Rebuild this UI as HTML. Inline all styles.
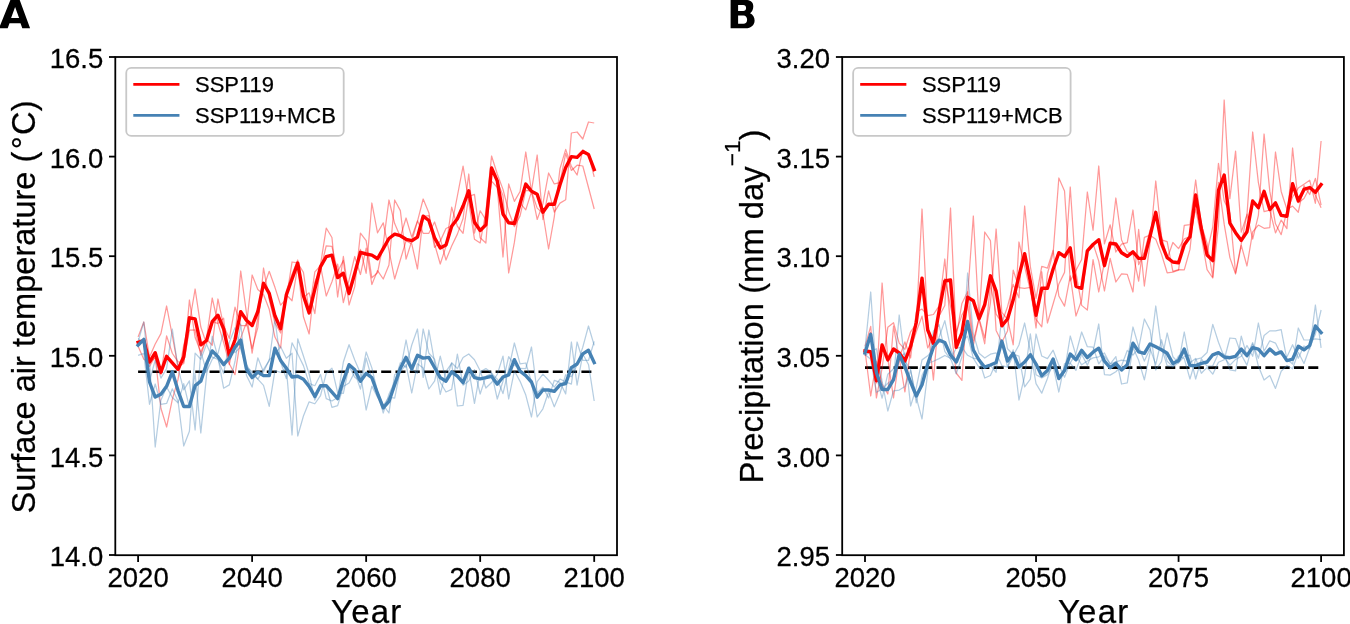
<!DOCTYPE html><html><head><meta charset="utf-8"><style>html,body{margin:0;padding:0;background:#fff;overflow:hidden}svg{display:block;will-change:transform}text{font-family:"Liberation Sans",sans-serif;fill:#000;stroke:#000;stroke-width:0.25px}</style></head><body>
<svg width="1350" height="624" viewBox="0 0 1350 624">
<rect width="1350" height="624" fill="#fff"/>
<clipPath id="clipA"><rect x="115.3" y="57.0" width="501.7" height="498.20000000000005"/></clipPath>
<g clip-path="url(#clipA)">
<line x1="138.10" y1="371.74" x2="594.20" y2="371.74" stroke="#000" stroke-width="2.7" stroke-dasharray="9.98 4.32"/>
<polyline points="138.10,336.89 143.81,322.00 149.51,357.11 155.21,344.05 160.91,333.67 166.61,306.00 172.31,335.73 178.01,366.62 183.71,363.57 189.41,300.00 195.12,337.51 200.82,351.99 206.52,339.08 212.22,345.24 217.92,299.00 223.62,325.95 229.32,338.31 235.02,307.18 240.72,325.68 246.43,325.74 252.13,275.00 257.83,289.46 263.53,294.55 269.23,309.26 274.93,337.07 280.63,347.90 286.33,290.95 292.04,274.28 297.74,260.00 303.44,297.57 309.14,292.83 314.84,313.71 320.54,264.67 326.24,228.03 331.94,237.47 337.64,297.00 343.35,256.47 349.05,295.14 354.75,276.42 360.45,249.27 366.15,273.27 371.85,203.00 377.55,232.78 383.25,222.89 388.95,250.49 394.66,279.00 400.36,259.78 406.06,240.72 411.76,243.93 417.46,269.00 423.16,216.29 428.86,215.52 434.56,247.39 440.26,241.12 445.97,228.47 451.67,225.69 457.37,196.00 463.07,166.20 468.77,201.88 474.47,239.22 480.17,242.95 485.87,211.79 491.57,156.00 497.28,173.97 502.98,189.38 508.68,211.48 514.38,226.66 520.08,215.88 525.78,190.48 531.48,190.77 537.18,155.00 542.89,219.51 548.59,190.90 554.29,212.07 559.99,203.13 565.69,199.66 571.39,133.00 577.09,132.00 582.79,139.00 588.49,122.00 594.20,123.00" fill="none" stroke="#ff0000" stroke-opacity="0.4" stroke-width="1.25" stroke-linejoin="round"/>
<polyline points="138.10,343.69 143.81,340.25 149.51,366.39 155.21,356.28 160.91,408.26 166.61,427.00 172.31,399.39 178.01,379.47 183.71,345.38 189.41,323.22 195.12,289.00 200.82,327.04 206.52,343.88 212.22,321.86 217.92,323.34 223.62,342.52 229.32,363.83 235.02,374.66 240.72,338.12 246.43,322.40 252.13,348.38 257.83,327.42 263.53,268.00 269.23,299.65 274.93,323.01 280.63,333.05 286.33,294.76 292.04,300.72 297.74,266.31 303.44,316.81 309.14,334.00 314.84,281.77 320.54,269.66 326.24,245.77 331.94,246.37 337.64,271.66 343.35,260.47 349.05,305.00 354.75,286.68 360.45,233.12 366.15,240.70 371.85,277.80 377.55,272.78 383.25,243.91 388.95,200.00 394.66,223.60 400.36,236.74 406.06,218.00 411.76,237.12 417.46,220.85 423.16,233.31 428.86,233.26 434.56,222.00 440.26,238.58 445.97,260.07 451.67,245.98 457.37,234.14 463.07,218.53 468.77,174.00 474.47,233.01 480.17,210.75 485.87,219.91 491.57,181.19 497.28,187.47 502.98,257.00 508.68,183.92 514.38,201.40 520.08,191.50 525.78,152.00 531.48,191.52 537.18,208.11 542.89,213.24 548.59,249.00 554.29,216.85 559.99,168.57 565.69,149.39 571.39,166.33 577.09,175.00 582.79,149.80 588.49,154.00 594.20,176.80" fill="none" stroke="#ff0000" stroke-opacity="0.4" stroke-width="1.25" stroke-linejoin="round"/>
<polyline points="138.10,346.32 143.81,359.25 149.51,362.79 155.21,357.77 160.91,374.67 166.61,335.90 172.31,353.27 178.01,361.81 183.71,362.05 189.41,330.18 195.12,329.89 200.82,355.37 206.52,338.54 212.22,298.00 217.92,323.26 223.62,318.24 229.32,364.65 235.02,337.26 240.72,271.00 246.43,312.77 252.13,353.12 257.83,317.62 263.53,287.35 269.23,271.29 274.93,287.32 280.63,305.15 286.33,299.00 292.04,262.00 297.74,262.99 303.44,272.42 309.14,311.87 314.84,271.82 320.54,265.77 326.24,296.00 331.94,281.76 337.64,264.14 343.35,302.66 349.05,280.06 354.75,256.49 360.45,274.51 366.15,248.03 371.85,284.50 377.55,270.54 383.25,279.00 388.95,265.01 394.66,200.00 400.36,210.58 406.06,259.18 411.76,241.05 417.46,221.45 423.16,199.00 428.86,212.71 434.56,244.01 440.26,264.00 445.97,246.45 451.67,207.23 457.37,226.26 463.07,233.27 468.77,196.52 474.47,194.36 480.17,237.80 485.87,243.00 491.57,166.81 497.28,181.26 502.98,195.62 508.68,273.00 514.38,242.44 520.08,203.12 525.78,209.82 531.48,191.61 537.18,219.49 542.89,203.86 548.59,173.00 554.29,183.98 559.99,182.70 565.69,153.45 571.39,170.47 577.09,165.20 582.79,166.00 588.49,187.50 594.20,209.00" fill="none" stroke="#ff0000" stroke-opacity="0.4" stroke-width="1.25" stroke-linejoin="round"/>
<polyline points="138.10,341.62 143.81,322.00 149.51,380.72 155.21,360.29 160.91,378.12 166.61,368.45 172.31,329.00 178.01,368.06 183.71,389.83 189.41,380.85 195.12,430.00 200.82,351.36 206.52,371.99 212.22,359.27 217.92,353.61 223.62,331.94 229.32,347.09 235.02,352.64 240.72,346.88 246.43,364.69 252.13,374.11 257.83,379.09 263.53,385.33 269.23,406.46 274.93,370.55 280.63,372.44 286.33,368.07 292.04,435.00 297.74,338.82 303.44,355.97 309.14,374.00 314.84,400.01 320.54,387.10 326.24,385.24 331.94,407.43 337.64,405.61 343.35,386.41 349.05,383.06 354.75,372.14 360.45,389.15 366.15,358.20 371.85,378.79 377.55,391.43 383.25,413.00 388.95,394.15 394.66,381.76 400.36,362.75 406.06,367.47 411.76,345.00 417.46,328.99 423.16,377.31 428.86,330.00 434.56,362.08 440.26,394.29 445.97,371.42 451.67,363.32 457.37,406.00 463.07,405.36 468.77,369.55 474.47,403.38 480.17,371.68 485.87,368.60 491.57,372.86 497.28,399.00 502.98,381.26 508.68,356.54 514.38,365.31 520.08,368.47 525.78,368.71 531.48,347.00 537.18,393.02 542.89,387.12 548.59,398.07 554.29,380.34 559.99,382.42 565.69,393.86 571.39,342.00 577.09,385.21 582.79,354.06 588.49,364.45 594.20,401.00" fill="none" stroke="#4682b4" stroke-opacity="0.4" stroke-width="1.25" stroke-linejoin="round"/>
<polyline points="138.10,338.59 143.81,342.74 149.51,361.00 155.21,447.00 160.91,400.13 166.61,386.99 172.31,397.56 178.01,402.83 183.71,383.67 189.41,407.41 195.12,373.73 200.82,433.00 206.52,375.40 212.22,336.25 217.92,357.09 223.62,388.23 229.32,384.87 235.02,361.50 240.72,324.00 246.43,375.26 252.13,387.02 257.83,357.84 263.53,372.05 269.23,359.79 274.93,354.75 280.63,346.72 286.33,358.23 292.04,353.22 297.74,436.00 303.44,416.01 309.14,401.84 314.84,403.76 320.54,395.52 326.24,373.26 331.94,368.14 337.64,392.69 343.35,393.37 349.05,366.33 354.75,377.20 360.45,381.42 366.15,352.00 371.85,367.91 377.55,391.89 383.25,405.19 388.95,413.00 394.66,374.56 400.36,371.71 406.06,364.73 411.76,393.00 417.46,363.63 423.16,367.99 428.86,389.00 434.56,381.24 440.26,356.23 445.97,380.18 451.67,362.70 457.37,368.49 463.07,357.51 468.77,354.00 474.47,359.75 480.17,370.72 485.87,388.07 491.57,382.55 497.28,374.42 502.98,356.18 508.68,399.00 514.38,370.79 520.08,381.33 525.78,395.09 531.48,417.00 537.18,381.58 542.89,374.06 548.59,380.24 554.29,387.12 559.99,379.04 565.69,381.88 571.39,384.08 577.09,342.00 582.79,360.49 588.49,360.45 594.20,341.37" fill="none" stroke="#4682b4" stroke-opacity="0.4" stroke-width="1.25" stroke-linejoin="round"/>
<polyline points="138.10,355.39 143.81,353.46 149.51,404.28 155.21,384.01 160.91,404.36 166.61,403.46 172.31,388.84 178.01,400.90 183.71,446.00 189.41,431.24 195.12,353.07 200.82,359.24 206.52,344.31 212.22,357.18 217.92,359.40 223.62,373.63 229.32,342.35 235.02,327.76 240.72,349.42 246.43,367.05 252.13,371.68 257.83,379.07 263.53,369.41 269.23,360.54 274.93,319.00 280.63,362.04 286.33,378.60 292.04,342.78 297.74,354.08 303.44,365.62 309.14,383.36 314.84,385.73 320.54,374.48 326.24,398.60 331.94,401.03 337.64,397.50 343.35,362.02 349.05,344.71 354.75,360.05 360.45,373.33 366.15,410.00 371.85,386.09 377.55,397.18 383.25,405.51 388.95,397.05 394.66,398.07 400.36,370.14 406.06,340.00 411.76,369.00 417.46,373.29 423.16,329.00 428.86,353.20 434.56,359.19 440.26,382.28 445.97,392.00 451.67,389.38 457.37,354.11 463.07,385.23 468.77,381.05 474.47,369.67 480.17,394.00 485.87,376.43 491.57,373.49 497.28,379.18 502.98,393.56 508.68,368.86 514.38,343.00 520.08,363.80 525.78,363.00 531.48,382.00 537.18,417.00 542.89,408.82 548.59,391.69 554.29,406.74 559.99,393.24 565.69,374.76 571.39,376.72 577.09,364.79 582.79,347.16 588.49,326.00 594.20,345.43" fill="none" stroke="#4682b4" stroke-opacity="0.4" stroke-width="1.25" stroke-linejoin="round"/>
<polyline points="138.10,342.30 143.81,340.50 149.51,362.10 155.21,352.70 160.91,372.20 166.61,356.30 172.31,362.80 178.01,369.30 183.71,357.00 189.41,317.80 195.12,318.80 200.82,344.80 206.52,340.50 212.22,321.70 217.92,315.20 223.62,328.90 229.32,355.60 235.02,339.70 240.72,311.60 246.43,320.30 252.13,325.50 257.83,311.50 263.53,283.30 269.23,293.40 274.93,315.80 280.63,328.70 286.33,294.90 292.04,279.00 297.74,263.10 303.44,295.60 309.14,312.90 314.84,289.10 320.54,266.70 326.24,256.60 331.94,255.20 337.64,277.60 343.35,273.20 349.05,293.40 354.75,273.20 360.45,252.30 366.15,254.00 371.85,255.10 377.55,258.70 383.25,248.60 388.95,238.50 394.66,234.20 400.36,235.70 406.06,239.30 411.76,240.70 417.46,237.10 423.16,216.20 428.86,220.50 434.56,237.80 440.26,247.90 445.97,245.00 451.67,226.30 457.37,218.80 463.07,206.00 468.77,190.80 474.47,222.20 480.17,230.50 485.87,224.90 491.57,168.00 497.28,180.90 502.98,214.00 508.68,222.80 514.38,223.50 520.08,203.50 525.78,184.10 531.48,191.30 537.18,194.20 542.89,212.20 548.59,204.30 554.29,204.30 559.99,184.80 565.69,167.50 571.39,156.60 577.09,157.40 582.79,151.60 588.49,154.50 594.20,169.60" fill="none" stroke="#ff0000" stroke-width="3.4" stroke-linejoin="round" stroke-linecap="square"/>
<polyline points="138.10,345.20 143.81,339.40 149.51,382.00 155.21,397.10 160.91,394.20 166.61,386.30 172.31,371.80 178.01,390.60 183.71,406.50 189.41,406.50 195.12,385.60 200.82,381.20 206.52,363.90 212.22,350.90 217.92,356.70 223.62,364.60 229.32,358.10 235.02,347.30 240.72,340.10 246.43,369.00 252.13,377.60 257.83,372.00 263.53,375.60 269.23,375.60 274.93,348.10 280.63,360.40 286.33,368.30 292.04,377.00 297.74,376.30 303.44,379.20 309.14,386.40 314.84,396.50 320.54,385.70 326.24,385.70 331.94,392.20 337.64,398.60 343.35,380.60 349.05,364.70 354.75,369.80 360.45,381.30 366.15,373.40 371.85,377.60 377.55,393.50 383.25,407.90 388.95,401.40 394.66,384.80 400.36,368.20 406.06,357.40 411.76,369.00 417.46,355.30 423.16,358.10 428.86,357.40 434.56,367.50 440.26,377.60 445.97,381.20 451.67,371.80 457.37,376.20 463.07,382.70 468.77,368.20 474.47,377.60 480.17,378.80 485.87,377.70 491.57,376.30 497.28,384.20 502.98,377.00 508.68,374.80 514.38,359.70 520.08,371.20 525.78,375.60 531.48,382.00 537.18,397.20 542.89,390.00 548.59,390.00 554.29,391.40 559.99,384.90 565.69,383.50 571.39,367.60 577.09,364.00 582.79,353.90 588.49,350.30 594.20,362.60" fill="none" stroke="#4682b4" stroke-width="3.4" stroke-linejoin="round" stroke-linecap="square"/>
</g>
<rect x="115.3" y="57.0" width="501.7" height="498.20000000000005" fill="none" stroke="#000" stroke-width="1.8"/>
<line x1="109.00" y1="555.00" x2="115.30" y2="555.00" stroke="#000" stroke-width="1.8"/>
<text transform="translate(103.30,566.10) scale(1,1.03)" font-size="27.5" text-anchor="end">14.0</text>
<line x1="109.00" y1="455.40" x2="115.30" y2="455.40" stroke="#000" stroke-width="1.8"/>
<text transform="translate(103.30,466.50) scale(1,1.03)" font-size="27.5" text-anchor="end">14.5</text>
<line x1="109.00" y1="355.80" x2="115.30" y2="355.80" stroke="#000" stroke-width="1.8"/>
<text transform="translate(103.30,366.90) scale(1,1.03)" font-size="27.5" text-anchor="end">15.0</text>
<line x1="109.00" y1="256.20" x2="115.30" y2="256.20" stroke="#000" stroke-width="1.8"/>
<text transform="translate(103.30,267.30) scale(1,1.03)" font-size="27.5" text-anchor="end">15.5</text>
<line x1="109.00" y1="156.60" x2="115.30" y2="156.60" stroke="#000" stroke-width="1.8"/>
<text transform="translate(103.30,167.70) scale(1,1.03)" font-size="27.5" text-anchor="end">16.0</text>
<line x1="109.00" y1="57.00" x2="115.30" y2="57.00" stroke="#000" stroke-width="1.8"/>
<text transform="translate(103.30,68.10) scale(1,1.03)" font-size="27.5" text-anchor="end">16.5</text>
<line x1="138.10" y1="555.20" x2="138.10" y2="561.90" stroke="#000" stroke-width="1.8"/>
<text transform="translate(138.10,587.3) scale(1,1.03)" font-size="27.5" text-anchor="middle">2020</text>
<line x1="252.13" y1="555.20" x2="252.13" y2="561.90" stroke="#000" stroke-width="1.8"/>
<text transform="translate(252.13,587.3) scale(1,1.03)" font-size="27.5" text-anchor="middle">2040</text>
<line x1="366.15" y1="555.20" x2="366.15" y2="561.90" stroke="#000" stroke-width="1.8"/>
<text transform="translate(366.15,587.3) scale(1,1.03)" font-size="27.5" text-anchor="middle">2060</text>
<line x1="480.17" y1="555.20" x2="480.17" y2="561.90" stroke="#000" stroke-width="1.8"/>
<text transform="translate(480.17,587.3) scale(1,1.03)" font-size="27.5" text-anchor="middle">2080</text>
<line x1="594.20" y1="555.20" x2="594.20" y2="561.90" stroke="#000" stroke-width="1.8"/>
<text transform="translate(594.20,587.3) scale(1,1.03)" font-size="27.5" text-anchor="middle">2100</text>
<text x="366.75" y="622.5" font-size="33" letter-spacing="1.2" text-anchor="middle">Year</text>
<text transform="translate(35,307) rotate(-90)" font-size="32.55" text-anchor="middle">Surface air temperature (<tspan dx="2.4">°</tspan><tspan dx="1.4">C</tspan>)</text>
<path fill="#000" fill-rule="evenodd" d="M11.6 -3 L18.6 -3 L30.1 28.3 L22.3 28.3 L20.5 23.3 L9.5 23.3 L7.7 28.3 L-1 28.3 Z M15.1 6.9 L19.1 17.9 L11.1 17.9 Z"/>
<rect x="126.25" y="67.9" width="217.45" height="68.0" rx="5" ry="5" fill="#fff" fill-opacity="0.8" stroke="#c8c8c8" stroke-width="1.8"/>
<line x1="133.30" y1="84.4" x2="179.45" y2="84.4" stroke="#ff0000" stroke-width="2.8"/>
<line x1="133.30" y1="115.4" x2="179.45" y2="115.4" stroke="#4682b4" stroke-width="2.8"/>
<text x="195.00" y="92.3" font-size="22">SSP119</text>
<text x="195.00" y="122.7" font-size="22">SSP119+MCB</text>
<clipPath id="clipB"><rect x="842.1999999999999" y="57.0" width="501.70000000000016" height="498.20000000000005"/></clipPath>
<g clip-path="url(#clipB)">
<line x1="865.00" y1="367.59" x2="1321.10" y2="367.59" stroke="#000" stroke-width="2.7" stroke-dasharray="9.98 4.32"/>
<polyline points="865.00,346.44 870.71,326.37 876.41,398.00 882.11,368.01 887.81,327.33 893.51,322.76 899.21,343.10 904.91,349.22 910.61,331.79 916.31,323.53 922.02,209.00 927.72,326.36 933.42,380.00 939.12,310.62 944.82,278.50 950.52,306.36 956.22,331.91 961.92,315.16 967.62,304.68 973.33,345.47 979.03,318.46 984.73,232.00 990.43,240.64 996.13,330.40 1001.83,342.31 1007.53,331.00 1013.23,270.18 1018.94,287.54 1024.64,288.39 1030.34,287.35 1036.04,328.00 1041.74,271.75 1047.44,323.00 1053.14,303.74 1058.84,284.10 1064.54,272.37 1070.25,187.00 1075.95,272.62 1081.65,305.36 1087.35,310.00 1093.05,259.60 1098.75,292.00 1104.45,262.18 1110.15,246.85 1115.85,198.00 1121.56,239.96 1127.26,251.94 1132.96,253.70 1138.66,281.10 1144.36,237.29 1150.06,235.17 1155.76,239.33 1161.46,254.05 1167.16,272.76 1172.87,272.07 1178.57,270.06 1184.27,225.33 1189.97,224.56 1195.67,180.00 1201.37,225.03 1207.07,252.01 1212.77,226.80 1218.47,163.39 1224.18,200.82 1229.88,213.08 1235.58,273.00 1241.28,243.61 1246.98,214.23 1252.68,239.13 1258.38,215.44 1264.08,134.00 1269.79,191.14 1275.49,223.82 1281.19,234.67 1286.89,210.91 1292.59,196.97 1298.29,188.06 1303.99,184.18 1309.69,180.25 1315.39,203.29 1321.10,141.00" fill="none" stroke="#ff0000" stroke-opacity="0.4" stroke-width="1.25" stroke-linejoin="round"/>
<polyline points="865.00,350.48 870.71,396.00 876.41,361.13 882.11,383.99 887.81,394.00 893.51,326.24 899.21,358.15 904.91,391.85 910.61,349.10 916.31,331.79 922.02,316.18 927.72,347.99 933.42,336.00 939.12,315.95 944.82,305.50 950.52,208.00 956.22,336.99 961.92,303.42 967.62,291.72 973.33,340.63 979.03,318.36 984.73,338.00 990.43,302.93 996.13,229.00 1001.83,312.41 1007.53,319.31 1013.23,344.76 1018.94,242.00 1024.64,266.71 1030.34,290.64 1036.04,319.28 1041.74,326.87 1047.44,273.73 1053.14,252.97 1058.84,178.00 1064.54,190.95 1070.25,280.90 1075.95,270.28 1081.65,259.45 1087.35,192.00 1093.05,230.23 1098.75,166.00 1104.45,243.92 1110.15,224.79 1115.85,252.00 1121.56,244.22 1127.26,242.57 1132.96,210.00 1138.66,264.62 1144.36,251.90 1150.06,230.15 1155.76,216.57 1161.46,239.96 1167.16,241.57 1172.87,271.44 1178.57,269.66 1184.27,269.86 1189.97,249.38 1195.67,195.91 1201.37,224.70 1207.07,243.38 1212.77,277.00 1218.47,182.29 1224.18,224.18 1229.88,257.60 1235.58,274.00 1241.28,245.42 1246.98,266.00 1252.68,231.87 1258.38,225.07 1264.08,228.28 1269.79,227.51 1275.49,152.00 1281.19,191.44 1286.89,209.31 1292.59,206.13 1298.29,212.22 1303.99,185.58 1309.69,194.50 1315.39,178.37 1321.10,205.05" fill="none" stroke="#ff0000" stroke-opacity="0.4" stroke-width="1.25" stroke-linejoin="round"/>
<polyline points="865.00,356.08 870.71,332.73 876.41,382.97 882.11,283.00 887.81,358.67 893.51,398.00 899.21,357.74 904.91,341.93 910.61,358.02 916.31,311.58 922.02,309.12 927.72,315.65 933.42,314.50 939.12,305.83 944.82,259.00 950.52,325.64 956.22,373.00 961.92,380.43 967.62,295.49 973.33,216.00 979.03,319.58 984.73,343.80 990.43,283.83 996.13,314.20 1001.83,322.68 1007.53,306.69 1013.23,284.46 1018.94,297.86 1024.64,206.00 1030.34,266.51 1036.04,298.32 1041.74,266.27 1047.44,268.17 1053.14,250.29 1058.84,296.00 1064.54,306.17 1070.25,275.80 1075.95,316.00 1081.65,300.10 1087.35,250.40 1093.05,243.67 1098.75,261.10 1104.45,291.00 1110.15,258.26 1115.85,282.00 1121.56,273.92 1127.26,274.39 1132.96,292.00 1138.66,229.48 1144.36,286.02 1150.06,242.98 1155.76,181.00 1161.46,235.89 1167.16,258.77 1172.87,242.49 1178.57,248.68 1184.27,238.90 1189.97,236.47 1195.67,209.09 1201.37,236.97 1207.07,269.61 1212.77,278.00 1218.47,225.52 1224.18,100.00 1229.88,198.61 1235.58,151.10 1241.28,232.17 1246.98,214.87 1252.68,132.00 1258.38,182.59 1264.08,211.62 1269.79,210.15 1275.49,232.88 1281.19,220.09 1286.89,228.68 1292.59,148.00 1298.29,202.72 1303.99,198.44 1309.69,187.75 1315.39,195.24 1321.10,207.75" fill="none" stroke="#ff0000" stroke-opacity="0.4" stroke-width="1.25" stroke-linejoin="round"/>
<polyline points="865.00,349.02 870.71,292.00 876.41,376.47 882.11,398.22 887.81,374.19 893.51,368.77 899.21,358.48 904.91,352.86 910.61,406.00 916.31,387.59 922.02,359.88 927.72,355.83 933.42,348.81 939.12,337.18 944.82,320.66 950.52,347.73 956.22,364.04 961.92,341.26 967.62,336.21 973.33,358.16 979.03,359.47 984.73,378.00 990.43,375.52 996.13,362.46 1001.83,342.72 1007.53,367.04 1013.23,349.82 1018.94,400.00 1024.64,376.16 1030.34,333.90 1036.04,374.71 1041.74,377.87 1047.44,374.65 1053.14,366.19 1058.84,392.00 1064.54,363.56 1070.25,363.13 1075.95,370.38 1081.65,354.35 1087.35,365.15 1093.05,351.58 1098.75,324.00 1104.45,374.54 1110.15,375.10 1115.85,371.74 1121.56,365.66 1127.26,350.43 1132.96,355.01 1138.66,348.39 1144.36,319.00 1150.06,330.11 1155.76,370.01 1161.46,361.67 1167.16,333.00 1172.87,356.71 1178.57,362.89 1184.27,356.33 1189.97,355.15 1195.67,379.00 1201.37,358.94 1207.07,366.18 1212.77,365.84 1218.47,353.59 1224.18,354.22 1229.88,369.88 1235.58,370.82 1241.28,336.20 1246.98,356.17 1252.68,342.58 1258.38,366.04 1264.08,380.00 1269.79,375.62 1275.49,388.41 1281.19,371.25 1286.89,365.55 1292.59,368.77 1298.29,352.33 1303.99,363.43 1309.69,347.78 1315.39,334.10 1321.10,310.00" fill="none" stroke="#4682b4" stroke-opacity="0.4" stroke-width="1.25" stroke-linejoin="round"/>
<polyline points="865.00,355.50 870.71,351.59 876.41,348.75 882.11,381.27 887.81,411.00 893.51,390.77 899.21,390.02 904.91,386.43 910.61,370.50 916.31,397.63 922.02,419.00 927.72,372.57 933.42,330.95 939.12,324.77 944.82,351.37 950.52,359.05 956.22,348.17 961.92,347.27 967.62,355.29 973.33,358.21 979.03,367.31 984.73,365.54 990.43,365.28 996.13,372.24 1001.83,315.00 1007.53,348.78 1013.23,354.44 1018.94,356.03 1024.64,386.84 1030.34,379.12 1036.04,334.00 1041.74,356.04 1047.44,358.67 1053.14,350.19 1058.84,365.14 1064.54,377.25 1070.25,362.87 1075.95,353.64 1081.65,332.00 1087.35,346.68 1093.05,347.15 1098.75,363.82 1104.45,356.12 1110.15,363.96 1115.85,361.83 1121.56,360.04 1127.26,361.05 1132.96,327.00 1138.66,346.69 1144.36,361.10 1150.06,348.64 1155.76,364.39 1161.46,339.76 1167.16,361.22 1172.87,366.61 1178.57,362.81 1184.27,332.00 1189.97,362.65 1195.67,358.42 1201.37,373.28 1207.07,367.31 1212.77,374.12 1218.47,362.27 1224.18,359.73 1229.88,338.00 1235.58,338.66 1241.28,354.80 1246.98,365.11 1252.68,343.95 1258.38,358.26 1264.08,335.48 1269.79,330.87 1275.49,330.80 1281.19,329.68 1286.89,359.28 1292.59,364.06 1298.29,328.00 1303.99,340.00 1309.69,339.77 1315.39,338.90 1321.10,339.61" fill="none" stroke="#4682b4" stroke-opacity="0.4" stroke-width="1.25" stroke-linejoin="round"/>
<polyline points="865.00,354.47 870.71,359.31 876.41,392.28 882.11,389.02 887.81,383.31 893.51,379.26 899.21,315.00 904.91,361.10 910.61,369.50 916.31,402.78 922.02,375.52 927.72,363.60 933.42,361.24 939.12,358.65 944.82,355.47 950.52,358.21 956.22,373.79 961.92,356.97 967.62,273.00 973.33,333.62 979.03,353.22 984.73,358.06 990.43,354.20 996.13,352.81 1001.83,365.58 1007.53,367.19 1013.23,355.64 1018.94,344.97 1024.64,323.00 1030.34,351.08 1036.04,383.59 1041.74,393.18 1047.44,378.48 1053.14,360.92 1058.84,378.36 1064.54,370.99 1070.25,336.00 1075.95,355.37 1081.65,364.85 1087.35,360.97 1093.05,357.87 1098.75,356.78 1104.45,352.95 1110.15,364.03 1115.85,356.62 1121.56,384.00 1127.26,382.93 1132.96,347.59 1138.66,360.33 1144.36,379.80 1150.06,352.95 1155.76,306.00 1161.46,347.66 1167.16,365.68 1172.87,366.88 1178.57,355.80 1184.27,358.67 1189.97,379.00 1195.67,359.38 1201.37,357.98 1207.07,352.51 1212.77,324.43 1218.47,342.24 1224.18,357.05 1229.88,365.22 1235.58,359.42 1241.28,356.30 1246.98,345.51 1252.68,356.27 1258.38,323.00 1264.08,351.32 1269.79,340.81 1275.49,343.09 1281.19,354.76 1286.89,356.97 1292.59,344.77 1298.29,358.27 1303.99,345.98 1309.69,348.94 1315.39,305.00 1321.10,347.89" fill="none" stroke="#4682b4" stroke-opacity="0.4" stroke-width="1.25" stroke-linejoin="round"/>
<polyline points="865.00,351.00 870.71,351.70 876.41,380.70 882.11,345.00 887.81,360.00 893.51,349.00 899.21,353.00 904.91,361.00 910.61,346.30 916.31,322.30 922.02,278.10 927.72,330.00 933.42,343.50 939.12,310.80 944.82,281.00 950.52,280.00 956.22,347.30 961.92,333.00 967.62,297.30 973.33,300.70 979.03,318.80 984.73,304.60 990.43,275.80 996.13,291.20 1001.83,325.80 1007.53,319.00 1013.23,299.80 1018.94,275.80 1024.64,253.70 1030.34,281.50 1036.04,315.20 1041.74,288.30 1047.44,288.30 1053.14,269.00 1058.84,252.70 1064.54,256.50 1070.25,247.90 1075.95,286.30 1081.65,288.30 1087.35,250.80 1093.05,244.50 1098.75,239.70 1104.45,265.70 1110.15,243.30 1115.85,244.00 1121.56,252.70 1127.26,256.30 1132.96,251.90 1138.66,258.40 1144.36,258.40 1150.06,236.10 1155.76,212.30 1161.46,243.30 1167.16,257.70 1172.87,262.00 1178.57,262.80 1184.27,244.70 1189.97,236.80 1195.67,195.00 1201.37,228.90 1207.07,255.00 1212.77,260.60 1218.47,190.40 1224.18,175.00 1229.88,223.10 1235.58,232.70 1241.28,240.40 1246.98,231.70 1252.68,201.00 1258.38,207.70 1264.08,191.30 1269.79,209.60 1275.49,202.90 1281.19,215.40 1286.89,216.30 1292.59,183.70 1298.29,201.00 1303.99,189.40 1309.69,187.50 1315.39,192.30 1321.10,184.60" fill="none" stroke="#ff0000" stroke-width="3.4" stroke-linejoin="round" stroke-linecap="square"/>
<polyline points="865.00,353.00 870.71,334.30 876.41,372.50 882.11,389.50 887.81,389.50 893.51,379.60 899.21,354.50 904.91,366.80 910.61,382.00 916.31,396.00 922.02,384.80 927.72,364.00 933.42,347.00 939.12,340.20 944.82,342.50 950.52,355.00 956.22,362.00 961.92,348.50 967.62,321.50 973.33,350.00 979.03,360.00 984.73,367.20 990.43,365.00 996.13,362.50 1001.83,341.10 1007.53,361.00 1013.23,353.30 1018.94,367.00 1024.64,362.00 1030.34,354.70 1036.04,364.10 1041.74,375.70 1047.44,370.60 1053.14,359.10 1058.84,378.50 1064.54,370.60 1070.25,354.00 1075.95,359.80 1081.65,350.40 1087.35,357.60 1093.05,352.20 1098.75,348.20 1104.45,361.20 1110.15,367.70 1115.85,363.40 1121.56,369.90 1127.26,364.80 1132.96,343.20 1138.66,351.80 1144.36,353.30 1150.06,343.90 1155.76,346.80 1161.46,349.70 1167.16,353.30 1172.87,363.40 1178.57,360.50 1184.27,349.00 1189.97,365.60 1195.67,365.60 1201.37,363.40 1207.07,362.00 1212.77,354.80 1218.47,352.70 1224.18,357.00 1229.88,357.70 1235.58,356.30 1241.28,349.10 1246.98,355.60 1252.68,347.60 1258.38,349.10 1264.08,355.60 1269.79,349.10 1275.49,354.10 1281.19,351.90 1286.89,360.60 1292.59,359.20 1298.29,346.20 1303.99,349.80 1309.69,345.50 1315.39,326.00 1321.10,332.50" fill="none" stroke="#4682b4" stroke-width="3.4" stroke-linejoin="round" stroke-linecap="square"/>
</g>
<rect x="842.1999999999999" y="57.0" width="501.70000000000016" height="498.20000000000005" fill="none" stroke="#000" stroke-width="1.8"/>
<line x1="835.90" y1="555.00" x2="842.20" y2="555.00" stroke="#000" stroke-width="1.8"/>
<text transform="translate(830.10,566.10) scale(1,1.03)" font-size="27.5" text-anchor="end">2.95</text>
<line x1="835.90" y1="455.40" x2="842.20" y2="455.40" stroke="#000" stroke-width="1.8"/>
<text transform="translate(830.10,466.50) scale(1,1.03)" font-size="27.5" text-anchor="end">3.00</text>
<line x1="835.90" y1="355.80" x2="842.20" y2="355.80" stroke="#000" stroke-width="1.8"/>
<text transform="translate(830.10,366.90) scale(1,1.03)" font-size="27.5" text-anchor="end">3.05</text>
<line x1="835.90" y1="256.20" x2="842.20" y2="256.20" stroke="#000" stroke-width="1.8"/>
<text transform="translate(830.10,267.30) scale(1,1.03)" font-size="27.5" text-anchor="end">3.10</text>
<line x1="835.90" y1="156.60" x2="842.20" y2="156.60" stroke="#000" stroke-width="1.8"/>
<text transform="translate(830.10,167.70) scale(1,1.03)" font-size="27.5" text-anchor="end">3.15</text>
<line x1="835.90" y1="57.00" x2="842.20" y2="57.00" stroke="#000" stroke-width="1.8"/>
<text transform="translate(830.10,68.10) scale(1,1.03)" font-size="27.5" text-anchor="end">3.20</text>
<line x1="865.00" y1="555.20" x2="865.00" y2="561.90" stroke="#000" stroke-width="1.8"/>
<text transform="translate(865.00,587.3) scale(1,1.03)" font-size="27.5" text-anchor="middle">2020</text>
<line x1="1036.04" y1="555.20" x2="1036.04" y2="561.90" stroke="#000" stroke-width="1.8"/>
<text transform="translate(1036.04,587.3) scale(1,1.03)" font-size="27.5" text-anchor="middle">2050</text>
<line x1="1178.57" y1="555.20" x2="1178.57" y2="561.90" stroke="#000" stroke-width="1.8"/>
<text transform="translate(1178.57,587.3) scale(1,1.03)" font-size="27.5" text-anchor="middle">2075</text>
<line x1="1321.10" y1="555.20" x2="1321.10" y2="561.90" stroke="#000" stroke-width="1.8"/>
<text transform="translate(1321.10,587.3) scale(1,1.03)" font-size="27.5" text-anchor="middle">2100</text>
<text x="1093.65" y="622.5" font-size="33" letter-spacing="1.2" text-anchor="middle">Year</text>
<text transform="translate(762.5,306.5) rotate(-90)" font-size="32.8" text-anchor="middle">Precipitation (mm day<tspan dy="-23" font-size="22.6">−1</tspan><tspan dy="23">)</tspan></text>
<path fill="#000" fill-rule="evenodd" d="M730.6 -3 L743.5 -3 L743.5 -0.3 C749.5 -0.3 753.3 1.5 753.3 6.2 C753.3 9.4 752 11.8 750.1 13.3 C753 14.8 754.6 17.5 754.6 20.5 C754.6 25 751.2 28.3 745.5 28.3 L730.6 28.3 Z M738.1 4.9 L743.2 4.9 C745 4.9 746.1 6.2 746.1 7.95 C746.1 9.7 745 11.0 743.2 11.0 L738.1 11.0 Z M738.1 15.6 L743.5 15.6 C745.7 15.6 747.1 17.3 747.1 19.7 C747.1 22.1 745.7 23.8 743.5 23.8 L738.1 23.8 Z"/>
<rect x="853.15" y="67.9" width="217.45" height="68.0" rx="5" ry="5" fill="#fff" fill-opacity="0.8" stroke="#c8c8c8" stroke-width="1.8"/>
<line x1="860.20" y1="84.4" x2="906.35" y2="84.4" stroke="#ff0000" stroke-width="2.8"/>
<line x1="860.20" y1="115.4" x2="906.35" y2="115.4" stroke="#4682b4" stroke-width="2.8"/>
<text x="921.90" y="92.3" font-size="22">SSP119</text>
<text x="921.90" y="122.7" font-size="22">SSP119+MCB</text>
</svg></body></html>
